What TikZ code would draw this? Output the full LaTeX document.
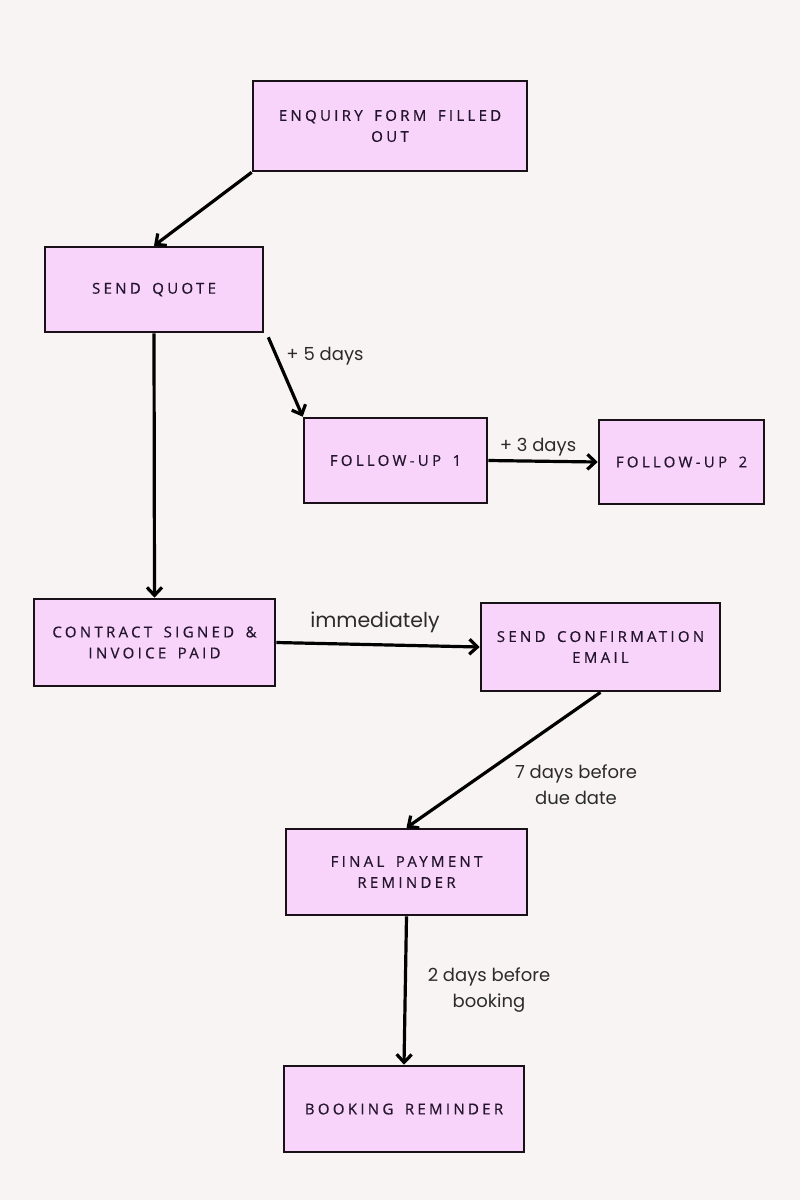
\documentclass[tikz,border=0pt]{standalone}
\usepackage{fontspec}
\setmainfont{Poppins}
\newfontfamily\boxfont[LetterSpace=22, WordSpace=1.6, FakeBold=0.6]{Open Sans}
\usetikzlibrary{arrows.meta}
\definecolor{paper}{HTML}{F8F4F3}
\definecolor{boxpink}{HTML}{F9D4FA}
\definecolor{boxline}{HTML}{1A1018}
\definecolor{boxtext}{HTML}{24152E}
\definecolor{labeltext}{HTML}{2B2B2B}
\tikzset{
  stepbox/.style={draw=boxline, fill=boxpink, line width=2.6pt, inner sep=0pt,
    text=boxtext, align=center, font=\boxfont\fontsize{15}{21}\selectfont},
  flow/.style={line width=3.2pt, draw=black, -{Straight Barb[length=8pt, width=15pt, line width=3.2pt]}},
  note/.style={text=labeltext, align=center, font=\fontsize{18}{26}\selectfont}
}
\begin{document}
\begin{tikzpicture}[x=1pt, y=-1pt]
    % Page and background
    \fill[paper] (0,0) rectangle (800,1200);
    \useasboundingbox (0,0) rectangle (800,1200);

    % Steps of the booking workflow
    \node[stepbox, minimum width=274pt, minimum height=90pt] (enquiry) at (390,126) {ENQUIRY FORM FILLED\\OUT};
    \node[stepbox, minimum width=218pt, minimum height=85pt] (quote) at (154,289.5) {SEND QUOTE};
    \node[stepbox, minimum width=183pt, minimum height=85pt] (follow1) at (395.5,460.5) {FOLLOW-UP 1};
    \node[stepbox, minimum width=165pt, minimum height=84pt] (follow2) at (681.5,462) {FOLLOW-UP 2};
    \node[stepbox, minimum width=241pt, minimum height=87pt] (contract) at (154.5,642.5) {CONTRACT SIGNED \&\\INVOICE PAID};
    \node[stepbox, minimum width=239pt, minimum height=88pt] (confirm) at (600.5,647) {SEND CONFIRMATION\\EMAIL};
    \node[stepbox, minimum width=241pt, minimum height=86pt] (payment) at (406.5,872) {FINAL PAYMENT\\REMINDER};
    \node[stepbox, minimum width=240pt, minimum height=86pt] (booking) at (404,1109) {BOOKING REMINDER};

    % Connectors between the steps
    \draw[flow] (enquiry.south west) -- (quote.north);
    \draw[flow] (quote.south) -- (contract.north);
    \draw[flow] ([xshift=4pt, yshift=-4pt]quote.south east) -- (follow1.north west);
    \draw[flow] (follow1.east) -- (follow2.west);
    \draw[flow] (contract.east) -- (confirm.west);
    \draw[flow] (confirm.south) -- (payment.north);
    \draw[flow] (payment.south) -- (booking.north);

    % Timing labels
    \node[note] (wait5) at (325,356) {+ 5 days};
    \node[note] (wait3) at (538,447) {+ 3 days};
    \node[note, font=\fontsize{20.5}{26}\selectfont] (now) at (375,622) {immediately};
    \node[note] (due) at (576,785) {7 days before\\due date};
    \node[note] (before) at (489,990) {2 days before\\booking};
\end{tikzpicture}
\end{document}
